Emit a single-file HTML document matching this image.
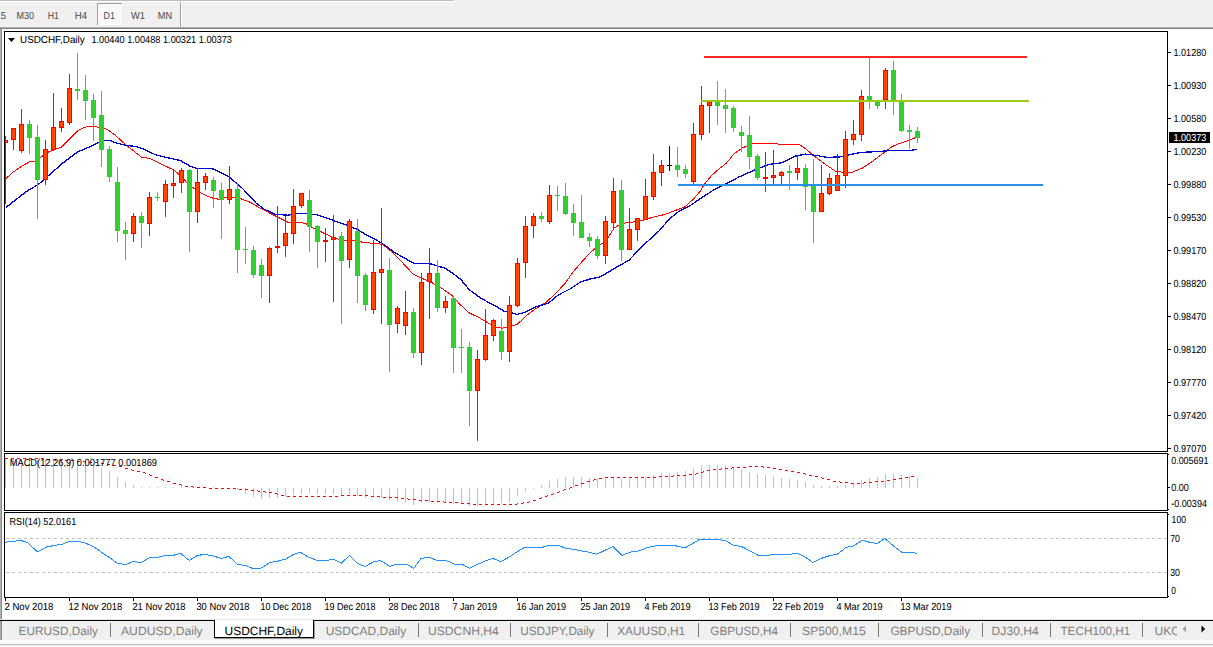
<!DOCTYPE html>
<html lang="en"><head><meta charset="utf-8"><title>USDCHF,Daily</title>
<style>html,body{margin:0;padding:0;background:#fff;overflow:hidden}body{width:1213px;height:647px}svg{display:block}text{font-family:"Liberation Sans",sans-serif;white-space:pre;text-rendering:geometricPrecision}</style>
</head><body>
<svg width="1213" height="647" viewBox="0 0 1213 647">
<rect x="0" y="0" width="1213" height="647" fill="#fff"/>
<g shape-rendering="crispEdges">
<rect x="0" y="0" width="1213" height="27" fill="#f0f0f0"/>
<rect x="0" y="0" width="453" height="1" fill="#bcbcbc"/>
<rect x="0" y="1" width="453" height="1" fill="#fdfdfd"/>
<rect x="0" y="27" width="1213" height="1" fill="#b0b0b0"/>
<rect x="0" y="28" width="1213" height="1" fill="#7e7e7e"/>
<rect x="97" y="3" width="25" height="22" fill="#f8f8f8"/>
<rect x="97" y="3" width="25" height="1" fill="#a0a0a0"/>
<rect x="97" y="3" width="1" height="22" fill="#a0a0a0"/>
<rect x="98" y="24" width="24" height="1" fill="#fff"/>
<rect x="121" y="4" width="1" height="21" fill="#fff"/>
<rect x="180" y="2" width="1" height="25" fill="#a0a0a0"/>
<rect x="181" y="2" width="1" height="25" fill="#fff"/>
<rect x="0" y="29" width="1" height="590" fill="#b0b0b0"/>
<rect x="1" y="29" width="1" height="590" fill="#888"/>
</g>
<text x="-4.4" y="19" font-size="10.2" fill="#484848" stroke="#484848" stroke-width="0" textLength="10.5" lengthAdjust="spacingAndGlyphs">15</text>
<text x="16.6" y="19" font-size="10.2" fill="#484848" stroke="#484848" stroke-width="0" textLength="17.5" lengthAdjust="spacingAndGlyphs">M30</text>
<text x="47.8" y="19" font-size="10.2" fill="#484848" stroke="#484848" stroke-width="0" textLength="11.2" lengthAdjust="spacingAndGlyphs">H1</text>
<text x="74.7" y="19" font-size="10.2" fill="#484848" stroke="#484848" stroke-width="0" textLength="12.3" lengthAdjust="spacingAndGlyphs">H4</text>
<text x="103.6" y="19" font-size="10.2" fill="#484848" stroke="#484848" stroke-width="0" textLength="11.4" lengthAdjust="spacingAndGlyphs">D1</text>
<text x="131" y="19" font-size="10.2" fill="#484848" stroke="#484848" stroke-width="0" textLength="13.9" lengthAdjust="spacingAndGlyphs">W1</text>
<text x="157.8" y="19" font-size="10.2" fill="#484848" stroke="#484848" stroke-width="0" textLength="14.3" lengthAdjust="spacingAndGlyphs">MN</text>
<g shape-rendering="crispEdges" fill="none" stroke="#000" stroke-width="1">
<rect x="4.5" y="31.5" width="1163" height="420"/>
<rect x="4.5" y="453.5" width="1163" height="57"/>
<rect x="4.5" y="512.5" width="1163" height="85"/>
</g>
<defs><clipPath id="cm"><rect x="5" y="32" width="1162" height="419"/></clipPath><clipPath id="cd"><rect x="5" y="454" width="1162" height="56"/></clipPath><clipPath id="cr"><rect x="5" y="513" width="1162" height="84"/></clipPath></defs>
<g clip-path="url(#cm)">
<polyline fill="none" stroke="#ff0000" stroke-width="1.0" stroke-linejoin="round" shape-rendering="crispEdges" points="5.8,178.7 13.2,172.1 21.5,166.3 29.8,161.7 35.6,161 43,155.6 49.6,151.4 61.2,147.3 69.5,139 77.7,130.8 85.2,127.1 91.8,126.1 99.3,127.4 107.5,129.4 115.8,135.7 125.7,144.8 132.3,149.8 141.4,157.2 149.7,158.4 158.8,163 167,166.8 173.7,170 180.3,175.4 187,182.9 192,187.2 195,188.7 200,192.2 205.1,195.2 213.1,198.2 220.2,199.5 225.2,197.2 234.2,197.2 242.3,199.2 250.3,202.3 260.4,208.3 269.8,213.1 278,217.2 288,222.2 294.6,223.3 299.6,222.2 306.2,223.8 312.8,228 322.7,232.6 332.6,237.1 342.6,240.4 355.8,240.9 364.1,242.5 374,243.4 382.3,244.2 392.2,252 399.9,259.9 406,266.5 413.1,274 421.4,278.1 431.3,282.3 441.2,288 451.1,294.7 459.4,303.8 469.3,312.9 479.3,317.8 489.2,323.6 495.8,326.9 502.4,328.1 509,326.9 517.3,324.4 525.6,316.2 535.5,308.7 545.4,302.9 555.3,293.8 565.3,283.1 573,272 581.1,262.6 591,251.9 599.3,245.3 605.9,241.1 614.1,227.9 622.4,223.3 632.3,222.1 642.3,220.5 652.2,217.5 665.4,214.3 675.3,210.5 685.3,206.7 693.5,198.9 700,191.5 704.5,184.2 711.1,176 719.4,168.5 726,163.5 734.3,153.6 742.6,147.8 752.5,143.7 769,143.4 780.6,144.2 798.8,144.2 806,149.1 815.9,157.4 825.9,164.8 835.8,171.4 845.7,172.6 852.3,172.3 862.3,168.1 872.2,161.5 882.1,154.1 892,146.6 902,142.5 910.2,140 917,136.8"/>
<polyline fill="none" stroke="#0000cd" stroke-width="1.3" stroke-linejoin="round" shape-rendering="crispEdges" points="5.8,207.7 16.5,199.1 28.1,190.3 38,184.8 49.6,174.6 62.9,163 77.7,151.9 89.3,147 99.3,142.3 105.9,140.3 110,140.3 115.8,142.8 125.7,145.3 135.6,146.5 142.3,148.6 155.5,154.7 165.4,157.2 180.3,160.5 190,166.1 197,168.6 209.1,168.4 214.1,169.1 220.2,172.6 228.2,176.1 235.2,182.2 242.3,188.2 249.3,195.7 256.3,203.3 264.4,209.3 275.4,214.3 288,215.2 297.9,213.4 306.2,213.4 316.1,214.7 326,217.7 335.9,221.4 345.9,224.7 357.5,229.6 365.7,234.6 375.6,239.6 383.9,244.5 393.8,252 403.8,257.7 413.7,263.2 428.6,263.2 436.2,265.7 444.5,267.9 452.8,273.2 461.1,279.8 469.3,289.7 479.3,297.1 489.2,302.9 495.8,306.2 504.1,311.2 512.3,312.9 517.3,314.5 525.6,312 535.5,307.1 548.7,302.9 558.7,294.7 570.2,288.9 580,282.3 590,279 600.1,277 615.8,267.6 629,260.2 642.3,246.1 658.8,231.2 668.7,219.6 678.7,211.4 690.2,205.6 700,198.9 712,191 726,183.9 739.3,176.8 752.5,171 769,164.4 782.3,162.7 795.5,156.1 805.4,154.1 815.4,155.3 826.9,157.3 839.1,157 849,154.9 860.6,152.4 877.2,151.6 893.7,150.4 911.9,150.3 917,149.2"/>
<g shape-rendering="crispEdges">
<rect x="5" y="136" width="1" height="68" fill="#ff0000"/>
<rect x="3" y="140" width="5" height="3" fill="#ff0000"/>
<rect x="4" y="141" width="3" height="1" fill="#ff4500"/>
<rect x="13" y="128" width="1" height="22" fill="#ff0000"/>
<rect x="11" y="128" width="5" height="12" fill="#ff0000"/>
<rect x="12" y="129" width="3" height="10" fill="#ff4500"/>
<rect x="21" y="109" width="1" height="44" fill="#ff0000"/>
<rect x="19" y="124" width="5" height="27" fill="#ff0000"/>
<rect x="20" y="125" width="3" height="25" fill="#ff4500"/>
<rect x="29" y="120" width="1" height="34" fill="#32cd32"/>
<rect x="27" y="124" width="5" height="14" fill="#32cd32"/>
<rect x="37" y="125" width="1" height="94" fill="#32cd32"/>
<rect x="35" y="137" width="5" height="43" fill="#32cd32"/>
<rect x="45" y="140" width="1" height="45" fill="#ff0000"/>
<rect x="43" y="149" width="5" height="31" fill="#ff0000"/>
<rect x="44" y="150" width="3" height="29" fill="#ff4500"/>
<rect x="53" y="93" width="1" height="58" fill="#ff0000"/>
<rect x="51" y="127" width="5" height="23" fill="#ff0000"/>
<rect x="52" y="128" width="3" height="21" fill="#ff4500"/>
<rect x="61" y="108" width="1" height="24" fill="#ff0000"/>
<rect x="59" y="121" width="5" height="7" fill="#ff0000"/>
<rect x="60" y="122" width="3" height="5" fill="#ff4500"/>
<rect x="69" y="74" width="1" height="51" fill="#ff0000"/>
<rect x="67" y="88" width="5" height="35" fill="#ff0000"/>
<rect x="68" y="89" width="3" height="33" fill="#ff4500"/>
<rect x="77" y="53" width="1" height="47" fill="#32cd32"/>
<rect x="75" y="89" width="5" height="2" fill="#32cd32"/>
<rect x="85" y="75" width="1" height="45" fill="#32cd32"/>
<rect x="83" y="90" width="5" height="11" fill="#32cd32"/>
<rect x="93" y="94" width="1" height="47" fill="#32cd32"/>
<rect x="91" y="100" width="5" height="18" fill="#32cd32"/>
<rect x="101" y="91" width="1" height="76" fill="#32cd32"/>
<rect x="99" y="115" width="5" height="35" fill="#32cd32"/>
<rect x="109" y="146" width="1" height="36" fill="#32cd32"/>
<rect x="107" y="149" width="5" height="28" fill="#32cd32"/>
<rect x="117" y="167" width="1" height="75" fill="#32cd32"/>
<rect x="115" y="182" width="5" height="49" fill="#32cd32"/>
<rect x="125" y="222" width="1" height="38" fill="#32cd32"/>
<rect x="123" y="230" width="5" height="4" fill="#32cd32"/>
<rect x="133" y="213" width="1" height="29" fill="#ff0000"/>
<rect x="131" y="216" width="5" height="18" fill="#ff0000"/>
<rect x="132" y="217" width="3" height="16" fill="#ff4500"/>
<rect x="141" y="212" width="1" height="36" fill="#32cd32"/>
<rect x="139" y="216" width="5" height="7" fill="#32cd32"/>
<rect x="149" y="192" width="1" height="44" fill="#ff0000"/>
<rect x="147" y="197" width="5" height="27" fill="#ff0000"/>
<rect x="148" y="198" width="3" height="25" fill="#ff4500"/>
<rect x="157" y="192" width="1" height="9" fill="#32cd32"/>
<rect x="155" y="197" width="5" height="1" fill="#32cd32"/>
<rect x="165" y="180" width="1" height="37" fill="#ff0000"/>
<rect x="163" y="184" width="5" height="18" fill="#ff0000"/>
<rect x="164" y="185" width="3" height="16" fill="#ff4500"/>
<rect x="173" y="170" width="1" height="28" fill="#ff0000"/>
<rect x="171" y="183" width="5" height="3" fill="#ff0000"/>
<rect x="172" y="184" width="3" height="1" fill="#ff4500"/>
<rect x="181" y="168" width="1" height="25" fill="#ff0000"/>
<rect x="179" y="170" width="5" height="13" fill="#ff0000"/>
<rect x="180" y="171" width="3" height="11" fill="#ff4500"/>
<rect x="189" y="169" width="1" height="83" fill="#32cd32"/>
<rect x="187" y="170" width="5" height="42" fill="#32cd32"/>
<rect x="197" y="168" width="1" height="55" fill="#ff0000"/>
<rect x="195" y="182" width="5" height="30" fill="#ff0000"/>
<rect x="196" y="183" width="3" height="28" fill="#ff4500"/>
<rect x="205" y="173" width="1" height="17" fill="#ff0000"/>
<rect x="203" y="176" width="5" height="7" fill="#ff0000"/>
<rect x="204" y="177" width="3" height="5" fill="#ff4500"/>
<rect x="213" y="177" width="1" height="31" fill="#32cd32"/>
<rect x="211" y="180" width="5" height="11" fill="#32cd32"/>
<rect x="221" y="183" width="1" height="56" fill="#32cd32"/>
<rect x="219" y="190" width="5" height="10" fill="#32cd32"/>
<rect x="229" y="166" width="1" height="38" fill="#ff0000"/>
<rect x="227" y="189" width="5" height="11" fill="#ff0000"/>
<rect x="228" y="190" width="3" height="9" fill="#ff4500"/>
<rect x="237" y="183" width="1" height="90" fill="#32cd32"/>
<rect x="235" y="189" width="5" height="61" fill="#32cd32"/>
<rect x="245" y="227" width="1" height="37" fill="#32cd32"/>
<rect x="243" y="249" width="5" height="1" fill="#32cd32"/>
<rect x="253" y="246" width="1" height="32" fill="#32cd32"/>
<rect x="251" y="250" width="5" height="25" fill="#32cd32"/>
<rect x="261" y="259" width="1" height="39" fill="#32cd32"/>
<rect x="259" y="265" width="5" height="11" fill="#32cd32"/>
<rect x="269" y="247" width="1" height="56" fill="#ff0000"/>
<rect x="267" y="248" width="5" height="28" fill="#ff0000"/>
<rect x="268" y="249" width="3" height="26" fill="#ff4500"/>
<rect x="277" y="206" width="1" height="47" fill="#ff0000"/>
<rect x="275" y="246" width="5" height="2" fill="#ff0000"/>
<rect x="285" y="216" width="1" height="41" fill="#ff0000"/>
<rect x="283" y="233" width="5" height="13" fill="#ff0000"/>
<rect x="284" y="234" width="3" height="11" fill="#ff4500"/>
<rect x="293" y="189" width="1" height="55" fill="#ff0000"/>
<rect x="291" y="206" width="5" height="28" fill="#ff0000"/>
<rect x="292" y="207" width="3" height="26" fill="#ff4500"/>
<rect x="301" y="193" width="1" height="15" fill="#ff0000"/>
<rect x="299" y="193" width="5" height="13" fill="#ff0000"/>
<rect x="300" y="194" width="3" height="11" fill="#ff4500"/>
<rect x="309" y="190" width="1" height="62" fill="#32cd32"/>
<rect x="307" y="200" width="5" height="27" fill="#32cd32"/>
<rect x="317" y="225" width="1" height="43" fill="#32cd32"/>
<rect x="315" y="226" width="5" height="16" fill="#32cd32"/>
<rect x="325" y="228" width="1" height="34" fill="#ff0000"/>
<rect x="323" y="240" width="5" height="2" fill="#ff0000"/>
<rect x="333" y="215" width="1" height="87" fill="#ff0000"/>
<rect x="331" y="237" width="5" height="3" fill="#ff0000"/>
<rect x="332" y="238" width="3" height="1" fill="#ff4500"/>
<rect x="341" y="232" width="1" height="92" fill="#32cd32"/>
<rect x="339" y="236" width="5" height="25" fill="#32cd32"/>
<rect x="349" y="219" width="1" height="49" fill="#ff0000"/>
<rect x="347" y="221" width="5" height="39" fill="#ff0000"/>
<rect x="348" y="222" width="3" height="37" fill="#ff4500"/>
<rect x="357" y="219" width="1" height="84" fill="#32cd32"/>
<rect x="355" y="231" width="5" height="45" fill="#32cd32"/>
<rect x="365" y="273" width="1" height="38" fill="#32cd32"/>
<rect x="363" y="275" width="5" height="30" fill="#32cd32"/>
<rect x="373" y="240" width="1" height="74" fill="#ff0000"/>
<rect x="371" y="272" width="5" height="38" fill="#ff0000"/>
<rect x="372" y="273" width="3" height="36" fill="#ff4500"/>
<rect x="381" y="208" width="1" height="116" fill="#ff0000"/>
<rect x="379" y="269" width="5" height="4" fill="#ff0000"/>
<rect x="380" y="270" width="3" height="2" fill="#ff4500"/>
<rect x="389" y="258" width="1" height="114" fill="#32cd32"/>
<rect x="387" y="270" width="5" height="55" fill="#32cd32"/>
<rect x="397" y="306" width="1" height="27" fill="#ff0000"/>
<rect x="395" y="308" width="5" height="16" fill="#ff0000"/>
<rect x="396" y="309" width="3" height="14" fill="#ff4500"/>
<rect x="405" y="291" width="1" height="44" fill="#ff0000"/>
<rect x="403" y="312" width="5" height="14" fill="#ff0000"/>
<rect x="404" y="313" width="3" height="12" fill="#ff4500"/>
<rect x="413" y="308" width="1" height="50" fill="#32cd32"/>
<rect x="411" y="312" width="5" height="41" fill="#32cd32"/>
<rect x="421" y="273" width="1" height="92" fill="#ff0000"/>
<rect x="419" y="282" width="5" height="71" fill="#ff0000"/>
<rect x="420" y="283" width="3" height="69" fill="#ff4500"/>
<rect x="429" y="248" width="1" height="71" fill="#ff0000"/>
<rect x="427" y="273" width="5" height="9" fill="#ff0000"/>
<rect x="428" y="274" width="3" height="7" fill="#ff4500"/>
<rect x="437" y="260" width="1" height="52" fill="#32cd32"/>
<rect x="435" y="273" width="5" height="35" fill="#32cd32"/>
<rect x="445" y="296" width="1" height="17" fill="#ff0000"/>
<rect x="443" y="301" width="5" height="7" fill="#ff0000"/>
<rect x="444" y="302" width="3" height="5" fill="#ff4500"/>
<rect x="453" y="296" width="1" height="77" fill="#32cd32"/>
<rect x="451" y="298" width="5" height="50" fill="#32cd32"/>
<rect x="461" y="329" width="1" height="44" fill="#32cd32"/>
<rect x="459" y="347" width="5" height="1" fill="#32cd32"/>
<rect x="469" y="342" width="1" height="84" fill="#32cd32"/>
<rect x="467" y="347" width="5" height="44" fill="#32cd32"/>
<rect x="477" y="350" width="1" height="91" fill="#ff0000"/>
<rect x="475" y="359" width="5" height="32" fill="#ff0000"/>
<rect x="476" y="360" width="3" height="30" fill="#ff4500"/>
<rect x="485" y="309" width="1" height="52" fill="#ff0000"/>
<rect x="483" y="335" width="5" height="25" fill="#ff0000"/>
<rect x="484" y="336" width="3" height="23" fill="#ff4500"/>
<rect x="493" y="319" width="1" height="22" fill="#ff0000"/>
<rect x="491" y="320" width="5" height="16" fill="#ff0000"/>
<rect x="492" y="321" width="3" height="14" fill="#ff4500"/>
<rect x="501" y="319" width="1" height="41" fill="#32cd32"/>
<rect x="499" y="331" width="5" height="21" fill="#32cd32"/>
<rect x="509" y="296" width="1" height="66" fill="#ff0000"/>
<rect x="507" y="305" width="5" height="47" fill="#ff0000"/>
<rect x="508" y="306" width="3" height="45" fill="#ff4500"/>
<rect x="517" y="258" width="1" height="49" fill="#ff0000"/>
<rect x="515" y="263" width="5" height="43" fill="#ff0000"/>
<rect x="516" y="264" width="3" height="41" fill="#ff4500"/>
<rect x="525" y="216" width="1" height="62" fill="#ff0000"/>
<rect x="523" y="226" width="5" height="37" fill="#ff0000"/>
<rect x="524" y="227" width="3" height="35" fill="#ff4500"/>
<rect x="533" y="213" width="1" height="25" fill="#ff0000"/>
<rect x="531" y="216" width="5" height="10" fill="#ff0000"/>
<rect x="532" y="217" width="3" height="8" fill="#ff4500"/>
<rect x="541" y="212" width="1" height="10" fill="#32cd32"/>
<rect x="539" y="216" width="5" height="3" fill="#32cd32"/>
<rect x="549" y="185" width="1" height="39" fill="#ff0000"/>
<rect x="547" y="195" width="5" height="27" fill="#ff0000"/>
<rect x="548" y="196" width="3" height="25" fill="#ff4500"/>
<rect x="557" y="186" width="1" height="25" fill="#32cd32"/>
<rect x="555" y="195" width="5" height="1" fill="#32cd32"/>
<rect x="565" y="183" width="1" height="32" fill="#32cd32"/>
<rect x="563" y="196" width="5" height="18" fill="#32cd32"/>
<rect x="573" y="204" width="1" height="32" fill="#32cd32"/>
<rect x="571" y="213" width="5" height="10" fill="#32cd32"/>
<rect x="581" y="195" width="1" height="43" fill="#32cd32"/>
<rect x="579" y="222" width="5" height="16" fill="#32cd32"/>
<rect x="589" y="233" width="1" height="14" fill="#32cd32"/>
<rect x="587" y="237" width="5" height="4" fill="#32cd32"/>
<rect x="597" y="236" width="1" height="23" fill="#32cd32"/>
<rect x="595" y="239" width="5" height="17" fill="#32cd32"/>
<rect x="605" y="216" width="1" height="48" fill="#ff0000"/>
<rect x="603" y="221" width="5" height="35" fill="#ff0000"/>
<rect x="604" y="222" width="3" height="33" fill="#ff4500"/>
<rect x="613" y="178" width="1" height="52" fill="#ff0000"/>
<rect x="611" y="191" width="5" height="32" fill="#ff0000"/>
<rect x="612" y="192" width="3" height="30" fill="#ff4500"/>
<rect x="621" y="180" width="1" height="81" fill="#32cd32"/>
<rect x="619" y="190" width="5" height="60" fill="#32cd32"/>
<rect x="629" y="208" width="1" height="42" fill="#ff0000"/>
<rect x="627" y="229" width="5" height="21" fill="#ff0000"/>
<rect x="628" y="230" width="3" height="19" fill="#ff4500"/>
<rect x="637" y="218" width="1" height="23" fill="#ff0000"/>
<rect x="635" y="218" width="5" height="12" fill="#ff0000"/>
<rect x="636" y="219" width="3" height="10" fill="#ff4500"/>
<rect x="645" y="179" width="1" height="41" fill="#ff0000"/>
<rect x="643" y="196" width="5" height="24" fill="#ff0000"/>
<rect x="644" y="197" width="3" height="22" fill="#ff4500"/>
<rect x="653" y="154" width="1" height="46" fill="#ff0000"/>
<rect x="651" y="172" width="5" height="25" fill="#ff0000"/>
<rect x="652" y="173" width="3" height="23" fill="#ff4500"/>
<rect x="661" y="160" width="1" height="26" fill="#ff0000"/>
<rect x="659" y="165" width="5" height="8" fill="#ff0000"/>
<rect x="660" y="166" width="3" height="6" fill="#ff4500"/>
<rect x="669" y="146" width="1" height="25" fill="#000000"/>
<rect x="667" y="165" width="5" height="1" fill="#000000"/>
<rect x="677" y="147" width="1" height="30" fill="#32cd32"/>
<rect x="675" y="165" width="5" height="5" fill="#32cd32"/>
<rect x="685" y="165" width="1" height="13" fill="#32cd32"/>
<rect x="683" y="169" width="5" height="5" fill="#32cd32"/>
<rect x="693" y="123" width="1" height="61" fill="#ff0000"/>
<rect x="691" y="134" width="5" height="48" fill="#ff0000"/>
<rect x="692" y="135" width="3" height="46" fill="#ff4500"/>
<rect x="701" y="86" width="1" height="54" fill="#ff0000"/>
<rect x="699" y="105" width="5" height="30" fill="#ff0000"/>
<rect x="700" y="106" width="3" height="28" fill="#ff4500"/>
<rect x="709" y="100" width="1" height="33" fill="#ff0000"/>
<rect x="707" y="102" width="5" height="4" fill="#ff0000"/>
<rect x="708" y="103" width="3" height="2" fill="#ff4500"/>
<rect x="717" y="81" width="1" height="44" fill="#32cd32"/>
<rect x="715" y="102" width="5" height="4" fill="#32cd32"/>
<rect x="725" y="89" width="1" height="44" fill="#32cd32"/>
<rect x="723" y="105" width="5" height="4" fill="#32cd32"/>
<rect x="733" y="106" width="1" height="26" fill="#32cd32"/>
<rect x="731" y="108" width="5" height="20" fill="#32cd32"/>
<rect x="741" y="126" width="1" height="26" fill="#32cd32"/>
<rect x="739" y="132" width="5" height="4" fill="#32cd32"/>
<rect x="749" y="116" width="1" height="53" fill="#32cd32"/>
<rect x="747" y="135" width="5" height="22" fill="#32cd32"/>
<rect x="757" y="154" width="1" height="26" fill="#32cd32"/>
<rect x="755" y="156" width="5" height="22" fill="#32cd32"/>
<rect x="765" y="152" width="1" height="40" fill="#ff0000"/>
<rect x="763" y="177" width="5" height="2" fill="#ff0000"/>
<rect x="773" y="150" width="1" height="36" fill="#ff0000"/>
<rect x="771" y="175" width="5" height="3" fill="#ff0000"/>
<rect x="772" y="176" width="3" height="1" fill="#ff4500"/>
<rect x="781" y="171" width="1" height="15" fill="#ff0000"/>
<rect x="779" y="172" width="5" height="4" fill="#ff0000"/>
<rect x="780" y="173" width="3" height="2" fill="#ff4500"/>
<rect x="789" y="165" width="1" height="25" fill="#32cd32"/>
<rect x="787" y="171" width="5" height="2" fill="#32cd32"/>
<rect x="797" y="155" width="1" height="25" fill="#ff0000"/>
<rect x="795" y="168" width="5" height="5" fill="#ff0000"/>
<rect x="796" y="169" width="3" height="3" fill="#ff4500"/>
<rect x="805" y="164" width="1" height="46" fill="#32cd32"/>
<rect x="803" y="168" width="5" height="19" fill="#32cd32"/>
<rect x="813" y="159" width="1" height="84" fill="#32cd32"/>
<rect x="811" y="186" width="5" height="26" fill="#32cd32"/>
<rect x="821" y="165" width="1" height="47" fill="#ff0000"/>
<rect x="819" y="193" width="5" height="19" fill="#ff0000"/>
<rect x="820" y="194" width="3" height="17" fill="#ff4500"/>
<rect x="829" y="173" width="1" height="22" fill="#ff0000"/>
<rect x="827" y="178" width="5" height="16" fill="#ff0000"/>
<rect x="828" y="179" width="3" height="14" fill="#ff4500"/>
<rect x="837" y="154" width="1" height="37" fill="#ff0000"/>
<rect x="835" y="175" width="5" height="16" fill="#ff0000"/>
<rect x="836" y="176" width="3" height="14" fill="#ff4500"/>
<rect x="845" y="131" width="1" height="57" fill="#ff0000"/>
<rect x="843" y="139" width="5" height="37" fill="#ff0000"/>
<rect x="844" y="140" width="3" height="35" fill="#ff4500"/>
<rect x="853" y="120" width="1" height="25" fill="#ff0000"/>
<rect x="851" y="134" width="5" height="6" fill="#ff0000"/>
<rect x="852" y="135" width="3" height="4" fill="#ff4500"/>
<rect x="861" y="90" width="1" height="51" fill="#ff0000"/>
<rect x="859" y="96" width="5" height="39" fill="#ff0000"/>
<rect x="860" y="97" width="3" height="37" fill="#ff4500"/>
<rect x="869" y="57" width="1" height="52" fill="#32cd32"/>
<rect x="867" y="96" width="5" height="4" fill="#32cd32"/>
<rect x="877" y="101" width="1" height="8" fill="#32cd32"/>
<rect x="875" y="101" width="5" height="5" fill="#32cd32"/>
<rect x="885" y="68" width="1" height="41" fill="#ff0000"/>
<rect x="883" y="70" width="5" height="30" fill="#ff0000"/>
<rect x="884" y="71" width="3" height="28" fill="#ff4500"/>
<rect x="893" y="61" width="1" height="54" fill="#32cd32"/>
<rect x="891" y="70" width="5" height="30" fill="#32cd32"/>
<rect x="901" y="94" width="1" height="38" fill="#32cd32"/>
<rect x="899" y="101" width="5" height="30" fill="#32cd32"/>
<rect x="909" y="125" width="1" height="24" fill="#32cd32"/>
<rect x="907" y="130" width="5" height="2" fill="#32cd32"/>
<rect x="917" y="127" width="1" height="16" fill="#32cd32"/>
<rect x="915" y="131" width="5" height="7" fill="#32cd32"/>
</g>
<g shape-rendering="crispEdges">
<rect x="704" y="56" width="323" height="2" fill="#ff2424"/>
<rect x="701" y="100" width="328" height="2" fill="#9acd14"/>
<rect x="678" y="184" width="365" height="2" fill="#2b8ee8"/>
</g>
</g>
<polygon points="8,38 15,38 11.5,42" fill="#000"/>
<text x="20" y="43" font-size="10.2" fill="#000" stroke="#000" stroke-width="0.06" textLength="64.7" lengthAdjust="spacingAndGlyphs">USDCHF,Daily</text>
<text x="91.4" y="43" font-size="10.2" fill="#000" stroke="#000" stroke-width="0.06" textLength="140.6" lengthAdjust="spacingAndGlyphs">1.00440 1.00488 1.00321 1.00373</text>
<g shape-rendering="crispEdges">
<rect x="1168" y="52" width="3" height="1" fill="#000"/>
<rect x="1168" y="85" width="3" height="1" fill="#000"/>
<rect x="1168" y="118" width="3" height="1" fill="#000"/>
<rect x="1168" y="151" width="3" height="1" fill="#000"/>
<rect x="1168" y="184" width="3" height="1" fill="#000"/>
<rect x="1168" y="217" width="3" height="1" fill="#000"/>
<rect x="1168" y="250" width="3" height="1" fill="#000"/>
<rect x="1168" y="283" width="3" height="1" fill="#000"/>
<rect x="1168" y="316" width="3" height="1" fill="#000"/>
<rect x="1168" y="349" width="3" height="1" fill="#000"/>
<rect x="1168" y="382" width="3" height="1" fill="#000"/>
<rect x="1168" y="415" width="3" height="1" fill="#000"/>
<rect x="1168" y="448" width="3" height="1" fill="#000"/>
</g>
<text x="1173.5" y="56.1" font-size="10.2" fill="#000" stroke="#000" stroke-width="0.06" textLength="32.8" lengthAdjust="spacingAndGlyphs">1.01280</text>
<text x="1173.5" y="89.1" font-size="10.2" fill="#000" stroke="#000" stroke-width="0.06" textLength="32.8" lengthAdjust="spacingAndGlyphs">1.00930</text>
<text x="1173.5" y="122.1" font-size="10.2" fill="#000" stroke="#000" stroke-width="0.06" textLength="32.8" lengthAdjust="spacingAndGlyphs">1.00580</text>
<text x="1173.5" y="155.1" font-size="10.2" fill="#000" stroke="#000" stroke-width="0.06" textLength="32.8" lengthAdjust="spacingAndGlyphs">1.00230</text>
<text x="1173.5" y="188.1" font-size="10.2" fill="#000" stroke="#000" stroke-width="0.06" textLength="32.8" lengthAdjust="spacingAndGlyphs">0.99880</text>
<text x="1173.5" y="221.1" font-size="10.2" fill="#000" stroke="#000" stroke-width="0.06" textLength="32.8" lengthAdjust="spacingAndGlyphs">0.99530</text>
<text x="1173.5" y="254.1" font-size="10.2" fill="#000" stroke="#000" stroke-width="0.06" textLength="32.8" lengthAdjust="spacingAndGlyphs">0.99170</text>
<text x="1173.5" y="287.1" font-size="10.2" fill="#000" stroke="#000" stroke-width="0.06" textLength="32.8" lengthAdjust="spacingAndGlyphs">0.98820</text>
<text x="1173.5" y="320.1" font-size="10.2" fill="#000" stroke="#000" stroke-width="0.06" textLength="32.8" lengthAdjust="spacingAndGlyphs">0.98470</text>
<text x="1173.5" y="353.1" font-size="10.2" fill="#000" stroke="#000" stroke-width="0.06" textLength="32.8" lengthAdjust="spacingAndGlyphs">0.98120</text>
<text x="1173.5" y="386.1" font-size="10.2" fill="#000" stroke="#000" stroke-width="0.06" textLength="32.8" lengthAdjust="spacingAndGlyphs">0.97770</text>
<text x="1173.5" y="419.1" font-size="10.2" fill="#000" stroke="#000" stroke-width="0.06" textLength="32.8" lengthAdjust="spacingAndGlyphs">0.97420</text>
<text x="1173.5" y="452.1" font-size="10.2" fill="#000" stroke="#000" stroke-width="0.06" textLength="32.8" lengthAdjust="spacingAndGlyphs">0.97070</text>
<rect x="1169" y="132" width="41" height="11" fill="#000" shape-rendering="crispEdges"/>
<text x="1173.5" y="141.1" font-size="10.2" fill="#fff" stroke="#fff" stroke-width="0.06" textLength="32.8" lengthAdjust="spacingAndGlyphs">1.00373</text>
<g clip-path="url(#cd)">
<g shape-rendering="crispEdges">
<rect x="5" y="459" width="1" height="29" fill="#c0c0c0"/>
<rect x="13" y="459" width="1" height="29" fill="#c0c0c0"/>
<rect x="21" y="459" width="1" height="29" fill="#c0c0c0"/>
<rect x="29" y="459" width="1" height="29" fill="#c0c0c0"/>
<rect x="37" y="460" width="1" height="28" fill="#c0c0c0"/>
<rect x="45" y="460" width="1" height="28" fill="#c0c0c0"/>
<rect x="53" y="460" width="1" height="28" fill="#c0c0c0"/>
<rect x="61" y="461" width="1" height="27" fill="#c0c0c0"/>
<rect x="69" y="461" width="1" height="27" fill="#c0c0c0"/>
<rect x="77" y="462" width="1" height="26" fill="#c0c0c0"/>
<rect x="85" y="464" width="1" height="24" fill="#c0c0c0"/>
<rect x="93" y="466" width="1" height="22" fill="#c0c0c0"/>
<rect x="101" y="468" width="1" height="20" fill="#c0c0c0"/>
<rect x="109" y="471" width="1" height="17" fill="#c0c0c0"/>
<rect x="117" y="477" width="1" height="11" fill="#c0c0c0"/>
<rect x="125" y="482" width="1" height="6" fill="#c0c0c0"/>
<rect x="133" y="485" width="1" height="3" fill="#c0c0c0"/>
<rect x="141" y="487" width="1" height="1" fill="#c0c0c0"/>
<rect x="149" y="487" width="1" height="1" fill="#c0c0c0"/>
<rect x="157" y="487" width="1" height="1" fill="#c0c0c0"/>
<rect x="165" y="487" width="1" height="1" fill="#c0c0c0"/>
<rect x="173" y="487" width="1" height="1" fill="#c0c0c0"/>
<rect x="181" y="487" width="1" height="1" fill="#c0c0c0"/>
<rect x="189" y="487" width="1" height="1" fill="#c0c0c0"/>
<rect x="197" y="487" width="1" height="1" fill="#c0c0c0"/>
<rect x="205" y="487" width="1" height="1" fill="#c0c0c0"/>
<rect x="213" y="487" width="1" height="1" fill="#c0c0c0"/>
<rect x="221" y="488" width="1" height="1" fill="#c0c0c0"/>
<rect x="229" y="488" width="1" height="1" fill="#c0c0c0"/>
<rect x="237" y="488" width="1" height="2" fill="#c0c0c0"/>
<rect x="245" y="488" width="1" height="6" fill="#c0c0c0"/>
<rect x="253" y="488" width="1" height="9" fill="#c0c0c0"/>
<rect x="261" y="488" width="1" height="11" fill="#c0c0c0"/>
<rect x="269" y="488" width="1" height="10" fill="#c0c0c0"/>
<rect x="277" y="488" width="1" height="10" fill="#c0c0c0"/>
<rect x="285" y="488" width="1" height="9" fill="#c0c0c0"/>
<rect x="293" y="488" width="1" height="7" fill="#c0c0c0"/>
<rect x="301" y="488" width="1" height="6" fill="#c0c0c0"/>
<rect x="309" y="488" width="1" height="5" fill="#c0c0c0"/>
<rect x="317" y="488" width="1" height="6" fill="#c0c0c0"/>
<rect x="325" y="488" width="1" height="6" fill="#c0c0c0"/>
<rect x="333" y="488" width="1" height="6" fill="#c0c0c0"/>
<rect x="341" y="488" width="1" height="7" fill="#c0c0c0"/>
<rect x="349" y="488" width="1" height="6" fill="#c0c0c0"/>
<rect x="357" y="488" width="1" height="8" fill="#c0c0c0"/>
<rect x="365" y="488" width="1" height="10" fill="#c0c0c0"/>
<rect x="373" y="488" width="1" height="10" fill="#c0c0c0"/>
<rect x="381" y="488" width="1" height="10" fill="#c0c0c0"/>
<rect x="389" y="488" width="1" height="12" fill="#c0c0c0"/>
<rect x="397" y="488" width="1" height="14" fill="#c0c0c0"/>
<rect x="405" y="488" width="1" height="15" fill="#c0c0c0"/>
<rect x="413" y="488" width="1" height="17" fill="#c0c0c0"/>
<rect x="421" y="488" width="1" height="15" fill="#c0c0c0"/>
<rect x="429" y="488" width="1" height="14" fill="#c0c0c0"/>
<rect x="437" y="488" width="1" height="14" fill="#c0c0c0"/>
<rect x="445" y="488" width="1" height="14" fill="#c0c0c0"/>
<rect x="453" y="488" width="1" height="16" fill="#c0c0c0"/>
<rect x="461" y="488" width="1" height="15" fill="#c0c0c0"/>
<rect x="469" y="488" width="1" height="18" fill="#c0c0c0"/>
<rect x="477" y="488" width="1" height="18" fill="#c0c0c0"/>
<rect x="485" y="488" width="1" height="16" fill="#c0c0c0"/>
<rect x="493" y="488" width="1" height="16" fill="#c0c0c0"/>
<rect x="501" y="488" width="1" height="15" fill="#c0c0c0"/>
<rect x="509" y="488" width="1" height="14" fill="#c0c0c0"/>
<rect x="517" y="488" width="1" height="8" fill="#c0c0c0"/>
<rect x="525" y="488" width="1" height="4" fill="#c0c0c0"/>
<rect x="533" y="488" width="1" height="1" fill="#c0c0c0"/>
<rect x="541" y="485" width="1" height="3" fill="#c0c0c0"/>
<rect x="549" y="481" width="1" height="7" fill="#c0c0c0"/>
<rect x="557" y="479" width="1" height="9" fill="#c0c0c0"/>
<rect x="565" y="477" width="1" height="11" fill="#c0c0c0"/>
<rect x="573" y="477" width="1" height="11" fill="#c0c0c0"/>
<rect x="581" y="477" width="1" height="11" fill="#c0c0c0"/>
<rect x="589" y="478" width="1" height="10" fill="#c0c0c0"/>
<rect x="597" y="478" width="1" height="10" fill="#c0c0c0"/>
<rect x="605" y="479" width="1" height="9" fill="#c0c0c0"/>
<rect x="613" y="478" width="1" height="10" fill="#c0c0c0"/>
<rect x="621" y="479" width="1" height="9" fill="#c0c0c0"/>
<rect x="629" y="479" width="1" height="9" fill="#c0c0c0"/>
<rect x="637" y="478" width="1" height="10" fill="#c0c0c0"/>
<rect x="645" y="477" width="1" height="11" fill="#c0c0c0"/>
<rect x="653" y="475" width="1" height="13" fill="#c0c0c0"/>
<rect x="661" y="473" width="1" height="15" fill="#c0c0c0"/>
<rect x="669" y="473" width="1" height="15" fill="#c0c0c0"/>
<rect x="677" y="472" width="1" height="16" fill="#c0c0c0"/>
<rect x="685" y="471" width="1" height="17" fill="#c0c0c0"/>
<rect x="693" y="468" width="1" height="20" fill="#c0c0c0"/>
<rect x="701" y="466" width="1" height="22" fill="#c0c0c0"/>
<rect x="709" y="465" width="1" height="23" fill="#c0c0c0"/>
<rect x="717" y="465" width="1" height="23" fill="#c0c0c0"/>
<rect x="725" y="465" width="1" height="23" fill="#c0c0c0"/>
<rect x="733" y="467" width="1" height="21" fill="#c0c0c0"/>
<rect x="741" y="469" width="1" height="19" fill="#c0c0c0"/>
<rect x="749" y="472" width="1" height="16" fill="#c0c0c0"/>
<rect x="757" y="474" width="1" height="14" fill="#c0c0c0"/>
<rect x="765" y="475" width="1" height="13" fill="#c0c0c0"/>
<rect x="773" y="476" width="1" height="12" fill="#c0c0c0"/>
<rect x="781" y="478" width="1" height="10" fill="#c0c0c0"/>
<rect x="789" y="479" width="1" height="9" fill="#c0c0c0"/>
<rect x="797" y="480" width="1" height="8" fill="#c0c0c0"/>
<rect x="805" y="482" width="1" height="6" fill="#c0c0c0"/>
<rect x="813" y="485" width="1" height="3" fill="#c0c0c0"/>
<rect x="821" y="486" width="1" height="2" fill="#c0c0c0"/>
<rect x="829" y="486" width="1" height="2" fill="#c0c0c0"/>
<rect x="837" y="486" width="1" height="2" fill="#c0c0c0"/>
<rect x="845" y="485" width="1" height="3" fill="#c0c0c0"/>
<rect x="853" y="483" width="1" height="5" fill="#c0c0c0"/>
<rect x="861" y="480" width="1" height="8" fill="#c0c0c0"/>
<rect x="869" y="478" width="1" height="10" fill="#c0c0c0"/>
<rect x="877" y="477" width="1" height="11" fill="#c0c0c0"/>
<rect x="885" y="474" width="1" height="14" fill="#c0c0c0"/>
<rect x="893" y="474" width="1" height="14" fill="#c0c0c0"/>
<rect x="901" y="475" width="1" height="13" fill="#c0c0c0"/>
<rect x="909" y="476" width="1" height="12" fill="#c0c0c0"/>
<rect x="917" y="478" width="1" height="10" fill="#c0c0c0"/>
</g>
<g shape-rendering="crispEdges">
<rect x="5" y="458" width="3" height="1" fill="#ff0000"/>
<rect x="11" y="458" width="3" height="1" fill="#ff0000"/>
<rect x="17" y="458" width="3" height="1" fill="#ff0000"/>
<rect x="23" y="458" width="3" height="1" fill="#ff0000"/>
<rect x="29" y="458" width="3" height="1" fill="#ff0000"/>
<rect x="35" y="458" width="3" height="1" fill="#ff0000"/>
<rect x="41" y="458" width="3" height="1" fill="#ff0000"/>
<rect x="47" y="459" width="3" height="1" fill="#ff0000"/>
<rect x="53" y="459" width="2" height="1" fill="#ff0000"/>
<rect x="55" y="460" width="1" height="1" fill="#ff0000"/>
<rect x="59" y="460" width="3" height="1" fill="#ff0000"/>
<rect x="65" y="460" width="3" height="1" fill="#ff0000"/>
<rect x="71" y="460" width="3" height="1" fill="#ff0000"/>
<rect x="77" y="461" width="3" height="1" fill="#ff0000"/>
<rect x="83" y="461" width="2" height="1" fill="#ff0000"/>
<rect x="85" y="462" width="1" height="1" fill="#ff0000"/>
<rect x="89" y="462" width="3" height="1" fill="#ff0000"/>
<rect x="95" y="462" width="3" height="1" fill="#ff0000"/>
<rect x="101" y="463" width="3" height="1" fill="#ff0000"/>
<rect x="107" y="464" width="3" height="1" fill="#ff0000"/>
<rect x="113" y="465" width="3" height="1" fill="#ff0000"/>
<rect x="119" y="466" width="3" height="1" fill="#ff0000"/>
<rect x="125" y="468" width="3" height="1" fill="#ff0000"/>
<rect x="131" y="469" width="1" height="1" fill="#ff0000"/>
<rect x="132" y="470" width="2" height="1" fill="#ff0000"/>
<rect x="137" y="471" width="3" height="1" fill="#ff0000"/>
<rect x="143" y="472" width="2" height="1" fill="#ff0000"/>
<rect x="145" y="473" width="1" height="1" fill="#ff0000"/>
<rect x="149" y="474" width="1" height="1" fill="#ff0000"/>
<rect x="150" y="475" width="2" height="1" fill="#ff0000"/>
<rect x="155" y="477" width="3" height="1" fill="#ff0000"/>
<rect x="161" y="479" width="2" height="1" fill="#ff0000"/>
<rect x="163" y="480" width="1" height="1" fill="#ff0000"/>
<rect x="167" y="481" width="3" height="1" fill="#ff0000"/>
<rect x="173" y="483" width="3" height="1" fill="#ff0000"/>
<rect x="179" y="484" width="2" height="1" fill="#ff0000"/>
<rect x="181" y="485" width="1" height="1" fill="#ff0000"/>
<rect x="185" y="486" width="3" height="1" fill="#ff0000"/>
<rect x="191" y="486" width="2" height="1" fill="#ff0000"/>
<rect x="193" y="487" width="1" height="1" fill="#ff0000"/>
<rect x="197" y="487" width="3" height="1" fill="#ff0000"/>
<rect x="203" y="487" width="3" height="1" fill="#ff0000"/>
<rect x="209" y="488" width="3" height="1" fill="#ff0000"/>
<rect x="215" y="488" width="3" height="1" fill="#ff0000"/>
<rect x="221" y="488" width="3" height="1" fill="#ff0000"/>
<rect x="227" y="488" width="3" height="1" fill="#ff0000"/>
<rect x="233" y="488" width="3" height="1" fill="#ff0000"/>
<rect x="239" y="489" width="3" height="1" fill="#ff0000"/>
<rect x="245" y="489" width="3" height="1" fill="#ff0000"/>
<rect x="251" y="490" width="3" height="1" fill="#ff0000"/>
<rect x="257" y="490" width="1" height="1" fill="#ff0000"/>
<rect x="258" y="491" width="2" height="1" fill="#ff0000"/>
<rect x="263" y="491" width="2" height="1" fill="#ff0000"/>
<rect x="265" y="492" width="1" height="1" fill="#ff0000"/>
<rect x="269" y="492" width="3" height="1" fill="#ff0000"/>
<rect x="275" y="493" width="2" height="1" fill="#ff0000"/>
<rect x="277" y="494" width="1" height="1" fill="#ff0000"/>
<rect x="281" y="495" width="3" height="1" fill="#ff0000"/>
<rect x="287" y="496" width="3" height="1" fill="#ff0000"/>
<rect x="293" y="496" width="3" height="1" fill="#ff0000"/>
<rect x="299" y="496" width="3" height="1" fill="#ff0000"/>
<rect x="305" y="496" width="3" height="1" fill="#ff0000"/>
<rect x="311" y="496" width="3" height="1" fill="#ff0000"/>
<rect x="317" y="496" width="3" height="1" fill="#ff0000"/>
<rect x="323" y="496" width="3" height="1" fill="#ff0000"/>
<rect x="329" y="496" width="3" height="1" fill="#ff0000"/>
<rect x="335" y="496" width="3" height="1" fill="#ff0000"/>
<rect x="341" y="495" width="3" height="1" fill="#ff0000"/>
<rect x="347" y="495" width="3" height="1" fill="#ff0000"/>
<rect x="353" y="495" width="3" height="1" fill="#ff0000"/>
<rect x="359" y="495" width="3" height="1" fill="#ff0000"/>
<rect x="365" y="495" width="3" height="1" fill="#ff0000"/>
<rect x="371" y="496" width="3" height="1" fill="#ff0000"/>
<rect x="377" y="496" width="3" height="1" fill="#ff0000"/>
<rect x="383" y="497" width="3" height="1" fill="#ff0000"/>
<rect x="389" y="497" width="3" height="1" fill="#ff0000"/>
<rect x="395" y="497" width="3" height="1" fill="#ff0000"/>
<rect x="401" y="498" width="3" height="1" fill="#ff0000"/>
<rect x="407" y="498" width="1" height="1" fill="#ff0000"/>
<rect x="408" y="499" width="2" height="1" fill="#ff0000"/>
<rect x="413" y="499" width="3" height="1" fill="#ff0000"/>
<rect x="419" y="500" width="3" height="1" fill="#ff0000"/>
<rect x="425" y="500" width="3" height="1" fill="#ff0000"/>
<rect x="431" y="501" width="3" height="1" fill="#ff0000"/>
<rect x="437" y="501" width="3" height="1" fill="#ff0000"/>
<rect x="443" y="501" width="1" height="1" fill="#ff0000"/>
<rect x="444" y="502" width="2" height="1" fill="#ff0000"/>
<rect x="449" y="502" width="3" height="1" fill="#ff0000"/>
<rect x="455" y="502" width="3" height="1" fill="#ff0000"/>
<rect x="461" y="503" width="3" height="1" fill="#ff0000"/>
<rect x="467" y="503" width="3" height="1" fill="#ff0000"/>
<rect x="473" y="504" width="3" height="1" fill="#ff0000"/>
<rect x="479" y="504" width="3" height="1" fill="#ff0000"/>
<rect x="485" y="504" width="3" height="1" fill="#ff0000"/>
<rect x="491" y="504" width="3" height="1" fill="#ff0000"/>
<rect x="497" y="504" width="3" height="1" fill="#ff0000"/>
<rect x="503" y="504" width="3" height="1" fill="#ff0000"/>
<rect x="509" y="504" width="3" height="1" fill="#ff0000"/>
<rect x="515" y="504" width="2" height="1" fill="#ff0000"/>
<rect x="517" y="503" width="1" height="1" fill="#ff0000"/>
<rect x="521" y="503" width="2" height="1" fill="#ff0000"/>
<rect x="523" y="502" width="1" height="1" fill="#ff0000"/>
<rect x="527" y="502" width="2" height="1" fill="#ff0000"/>
<rect x="529" y="501" width="1" height="1" fill="#ff0000"/>
<rect x="533" y="500" width="3" height="1" fill="#ff0000"/>
<rect x="539" y="498" width="2" height="1" fill="#ff0000"/>
<rect x="541" y="497" width="1" height="1" fill="#ff0000"/>
<rect x="545" y="496" width="2" height="1" fill="#ff0000"/>
<rect x="547" y="495" width="1" height="1" fill="#ff0000"/>
<rect x="551" y="494" width="2" height="1" fill="#ff0000"/>
<rect x="553" y="493" width="1" height="1" fill="#ff0000"/>
<rect x="557" y="492" width="2" height="1" fill="#ff0000"/>
<rect x="559" y="491" width="1" height="1" fill="#ff0000"/>
<rect x="563" y="490" width="1" height="1" fill="#ff0000"/>
<rect x="564" y="489" width="2" height="1" fill="#ff0000"/>
<rect x="569" y="488" width="1" height="1" fill="#ff0000"/>
<rect x="570" y="487" width="2" height="1" fill="#ff0000"/>
<rect x="575" y="485" width="3" height="1" fill="#ff0000"/>
<rect x="581" y="483" width="3" height="1" fill="#ff0000"/>
<rect x="587" y="481" width="3" height="1" fill="#ff0000"/>
<rect x="593" y="480" width="1" height="1" fill="#ff0000"/>
<rect x="594" y="479" width="2" height="1" fill="#ff0000"/>
<rect x="599" y="478" width="3" height="1" fill="#ff0000"/>
<rect x="605" y="477" width="3" height="1" fill="#ff0000"/>
<rect x="611" y="477" width="3" height="1" fill="#ff0000"/>
<rect x="617" y="477" width="3" height="1" fill="#ff0000"/>
<rect x="623" y="477" width="3" height="1" fill="#ff0000"/>
<rect x="629" y="477" width="3" height="1" fill="#ff0000"/>
<rect x="635" y="477" width="3" height="1" fill="#ff0000"/>
<rect x="641" y="477" width="3" height="1" fill="#ff0000"/>
<rect x="647" y="477" width="3" height="1" fill="#ff0000"/>
<rect x="653" y="477" width="3" height="1" fill="#ff0000"/>
<rect x="659" y="476" width="3" height="1" fill="#ff0000"/>
<rect x="665" y="476" width="3" height="1" fill="#ff0000"/>
<rect x="671" y="476" width="2" height="1" fill="#ff0000"/>
<rect x="673" y="475" width="1" height="1" fill="#ff0000"/>
<rect x="677" y="475" width="3" height="1" fill="#ff0000"/>
<rect x="683" y="475" width="3" height="1" fill="#ff0000"/>
<rect x="689" y="474" width="3" height="1" fill="#ff0000"/>
<rect x="695" y="474" width="1" height="1" fill="#ff0000"/>
<rect x="696" y="473" width="2" height="1" fill="#ff0000"/>
<rect x="701" y="472" width="2" height="1" fill="#ff0000"/>
<rect x="703" y="471" width="1" height="1" fill="#ff0000"/>
<rect x="707" y="470" width="3" height="1" fill="#ff0000"/>
<rect x="713" y="469" width="3" height="1" fill="#ff0000"/>
<rect x="719" y="469" width="2" height="1" fill="#ff0000"/>
<rect x="721" y="468" width="1" height="1" fill="#ff0000"/>
<rect x="725" y="468" width="3" height="1" fill="#ff0000"/>
<rect x="731" y="468" width="1" height="1" fill="#ff0000"/>
<rect x="732" y="467" width="2" height="1" fill="#ff0000"/>
<rect x="737" y="467" width="3" height="1" fill="#ff0000"/>
<rect x="743" y="467" width="3" height="1" fill="#ff0000"/>
<rect x="749" y="466" width="3" height="1" fill="#ff0000"/>
<rect x="755" y="466" width="3" height="1" fill="#ff0000"/>
<rect x="761" y="466" width="2" height="1" fill="#ff0000"/>
<rect x="763" y="467" width="1" height="1" fill="#ff0000"/>
<rect x="767" y="467" width="3" height="1" fill="#ff0000"/>
<rect x="773" y="468" width="3" height="1" fill="#ff0000"/>
<rect x="779" y="469" width="3" height="1" fill="#ff0000"/>
<rect x="785" y="470" width="3" height="1" fill="#ff0000"/>
<rect x="791" y="471" width="3" height="1" fill="#ff0000"/>
<rect x="797" y="472" width="3" height="1" fill="#ff0000"/>
<rect x="803" y="473" width="2" height="1" fill="#ff0000"/>
<rect x="805" y="474" width="1" height="1" fill="#ff0000"/>
<rect x="809" y="475" width="3" height="1" fill="#ff0000"/>
<rect x="815" y="476" width="3" height="1" fill="#ff0000"/>
<rect x="821" y="477" width="1" height="1" fill="#ff0000"/>
<rect x="822" y="478" width="2" height="1" fill="#ff0000"/>
<rect x="827" y="479" width="3" height="1" fill="#ff0000"/>
<rect x="833" y="481" width="3" height="1" fill="#ff0000"/>
<rect x="839" y="481" width="1" height="1" fill="#ff0000"/>
<rect x="840" y="482" width="2" height="1" fill="#ff0000"/>
<rect x="845" y="482" width="3" height="1" fill="#ff0000"/>
<rect x="851" y="483" width="3" height="1" fill="#ff0000"/>
<rect x="857" y="483" width="3" height="1" fill="#ff0000"/>
<rect x="863" y="483" width="1" height="1" fill="#ff0000"/>
<rect x="864" y="482" width="2" height="1" fill="#ff0000"/>
<rect x="869" y="482" width="3" height="1" fill="#ff0000"/>
<rect x="875" y="481" width="3" height="1" fill="#ff0000"/>
<rect x="881" y="481" width="3" height="1" fill="#ff0000"/>
<rect x="887" y="480" width="3" height="1" fill="#ff0000"/>
<rect x="893" y="479" width="3" height="1" fill="#ff0000"/>
<rect x="899" y="478" width="3" height="1" fill="#ff0000"/>
<rect x="905" y="477" width="3" height="1" fill="#ff0000"/>
<rect x="911" y="476" width="3" height="1" fill="#ff0000"/>
</g>
</g>
<text x="9.7" y="466" font-size="10.2" fill="#000" stroke="#000" stroke-width="0.06" textLength="147.3" lengthAdjust="spacingAndGlyphs">MACD(12,26,9) 0.001777 0.001869</text>
<g shape-rendering="crispEdges">
<rect x="1168" y="487" width="2" height="1" fill="#000"/>
<rect x="1168" y="454" width="1" height="1" fill="#000"/>
<rect x="1168" y="509" width="1" height="1" fill="#000"/>
<rect x="1168" y="514" width="1" height="1" fill="#000"/>
<rect x="1168" y="596" width="1" height="1" fill="#000"/>
</g>
<text x="1171.2" y="464" font-size="10.2" fill="#000" stroke="#000" stroke-width="0.06" textLength="37.2" lengthAdjust="spacingAndGlyphs">0.005691</text>
<text x="1171.2" y="491" font-size="10.2" fill="#000" stroke="#000" stroke-width="0.06" textLength="17.7" lengthAdjust="spacingAndGlyphs">0.00</text>
<text x="1171.2" y="507" font-size="10.2" fill="#000" stroke="#000" stroke-width="0.06" textLength="35.8" lengthAdjust="spacingAndGlyphs">-0.00394</text>
<g clip-path="url(#cr)">
<g shape-rendering="crispEdges" stroke="#c0c0c0" stroke-width="1" stroke-dasharray="3,3">
<line x1="6" y1="538.5" x2="1167" y2="538.5"/>
<line x1="6" y1="572.5" x2="1167" y2="572.5"/>
</g>
<polyline fill="none" stroke="#1e90ff" stroke-width="1.0" stroke-linejoin="round" shape-rendering="crispEdges" points="5,542.3 12.4,541.3 21,540.6 27.2,542.3 37.5,552 47,546.8 54.4,545.5 61.8,544.3 69.3,541.6 79.1,541.3 86.6,543.6 94,546.8 101.4,552.2 108.8,557.2 117.5,563.3 124.9,564.6 133.6,561.6 141,562.6 149.6,557.6 158.3,557.2 165.7,555.4 173.1,555.4 180.6,553.4 189.2,560.4 196.6,555.9 204.1,554.2 212.7,555.9 221.4,558.4 228.8,556.4 237.4,564.1 246.1,565.8 253.5,568.8 260.9,568.3 269.6,562.6 277,561.4 285.7,559.1 293.1,554.7 300,552.2 308.7,557.2 317.3,560.4 327.2,560.4 333.4,559.1 341.3,563.3 349.5,555.4 357.4,563.3 365,566.6 373,562.1 380.4,560.4 389.5,566.3 397.7,564.1 406.4,564.1 413.8,568.3 421.2,558.4 428.6,557.2 437.3,560.4 445.9,560.4 454.6,564.1 462,564.1 469.4,568.3 478.1,564.1 485.5,560.9 492.9,558.4 500.8,561.6 509,557.2 516.4,552.2 523.8,547.8 533.7,547.3 542.4,547.3 549.8,545.3 558.5,545.3 565.9,548.5 573.3,549.2 582,551 589.4,552.2 596.8,554.2 600,552.7 612.9,546.5 621.8,555.4 629.7,552.2 638.3,551 648.2,547.3 658.1,545.3 673,545.3 685.3,547.8 698.9,539.8 708.8,539.1 724.9,540.3 733.6,545.3 742.2,546.8 758.3,555.4 768.2,555.4 773.1,554.2 790.5,554.2 797.9,553.4 805.3,557.2 813.2,562.6 821.4,558.4 828.8,555.9 837.4,554.2 846.1,547.3 853.5,546 862.2,540.3 869.6,542.3 877,543.6 884.9,538.5 893.4,545.9 902,552.5 912.9,552.5 917.1,553.4"/>
</g>
<text x="9.5" y="525" font-size="10.2" fill="#000" stroke="#000" stroke-width="0.06" textLength="66.7" lengthAdjust="spacingAndGlyphs">RSI(14) 52.0161</text>
<text x="1171.6" y="523" font-size="10.2" fill="#000" stroke="#000" stroke-width="0.06" textLength="14.4" lengthAdjust="spacingAndGlyphs">100</text>
<text x="1170.2" y="541.6" font-size="10.2" fill="#000" stroke="#000" stroke-width="0.06" textLength="9.8" lengthAdjust="spacingAndGlyphs">70</text>
<text x="1170.2" y="575.8" font-size="10.2" fill="#000" stroke="#000" stroke-width="0.06" textLength="9.8" lengthAdjust="spacingAndGlyphs">30</text>
<text x="1171.3" y="593.8" font-size="10.2" fill="#000" stroke="#000" stroke-width="0.06" textLength="4.7" lengthAdjust="spacingAndGlyphs">0</text>
<g shape-rendering="crispEdges">
<rect x="5" y="598" width="1" height="3" fill="#000"/>
<rect x="69" y="598" width="1" height="3" fill="#000"/>
<rect x="133" y="598" width="1" height="3" fill="#000"/>
<rect x="197" y="598" width="1" height="3" fill="#000"/>
<rect x="261" y="598" width="1" height="3" fill="#000"/>
<rect x="325" y="598" width="1" height="3" fill="#000"/>
<rect x="389" y="598" width="1" height="3" fill="#000"/>
<rect x="453" y="598" width="1" height="3" fill="#000"/>
<rect x="517" y="598" width="1" height="3" fill="#000"/>
<rect x="581" y="598" width="1" height="3" fill="#000"/>
<rect x="645" y="598" width="1" height="3" fill="#000"/>
<rect x="709" y="598" width="1" height="3" fill="#000"/>
<rect x="773" y="598" width="1" height="3" fill="#000"/>
<rect x="837" y="598" width="1" height="3" fill="#000"/>
<rect x="901" y="598" width="1" height="3" fill="#000"/>
</g>
<text x="4.4" y="610" font-size="10.2" fill="#000" stroke="#000" stroke-width="0.06" textLength="49.0" lengthAdjust="spacingAndGlyphs">2 Nov 2018</text>
<text x="68.4" y="610" font-size="10.2" fill="#000" stroke="#000" stroke-width="0.06" textLength="53.9" lengthAdjust="spacingAndGlyphs">12 Nov 2018</text>
<text x="132.4" y="610" font-size="10.2" fill="#000" stroke="#000" stroke-width="0.06" textLength="53.2" lengthAdjust="spacingAndGlyphs">21 Nov 2018</text>
<text x="196.4" y="610" font-size="10.2" fill="#000" stroke="#000" stroke-width="0.06" textLength="53.2" lengthAdjust="spacingAndGlyphs">30 Nov 2018</text>
<text x="260.4" y="610" font-size="10.2" fill="#000" stroke="#000" stroke-width="0.06" textLength="50.9" lengthAdjust="spacingAndGlyphs">10 Dec 2018</text>
<text x="324.4" y="610" font-size="10.2" fill="#000" stroke="#000" stroke-width="0.06" textLength="51.1" lengthAdjust="spacingAndGlyphs">19 Dec 2018</text>
<text x="388.4" y="610" font-size="10.2" fill="#000" stroke="#000" stroke-width="0.06" textLength="51.1" lengthAdjust="spacingAndGlyphs">28 Dec 2018</text>
<text x="452.4" y="610" font-size="10.2" fill="#000" stroke="#000" stroke-width="0.06" textLength="44.6" lengthAdjust="spacingAndGlyphs">7 Jan 2019</text>
<text x="516.4" y="610" font-size="10.2" fill="#000" stroke="#000" stroke-width="0.06" textLength="49.5" lengthAdjust="spacingAndGlyphs">16 Jan 2019</text>
<text x="580.4" y="610" font-size="10.2" fill="#000" stroke="#000" stroke-width="0.06" textLength="49.5" lengthAdjust="spacingAndGlyphs">25 Jan 2019</text>
<text x="644.4" y="610" font-size="10.2" fill="#000" stroke="#000" stroke-width="0.06" textLength="46.1" lengthAdjust="spacingAndGlyphs">4 Feb 2019</text>
<text x="708.4" y="610" font-size="10.2" fill="#000" stroke="#000" stroke-width="0.06" textLength="51.3" lengthAdjust="spacingAndGlyphs">13 Feb 2019</text>
<text x="772.4" y="610" font-size="10.2" fill="#000" stroke="#000" stroke-width="0.06" textLength="51.1" lengthAdjust="spacingAndGlyphs">22 Feb 2019</text>
<text x="836.4" y="610" font-size="10.2" fill="#000" stroke="#000" stroke-width="0.06" textLength="46.2" lengthAdjust="spacingAndGlyphs">4 Mar 2019</text>
<text x="900.4" y="610" font-size="10.2" fill="#000" stroke="#000" stroke-width="0.06" textLength="51.1" lengthAdjust="spacingAndGlyphs">13 Mar 2019</text>
<g shape-rendering="crispEdges">
<rect x="0" y="619" width="1213" height="1" fill="#e6e6e6"/>
<rect x="0" y="620" width="1213" height="1" fill="#000"/>
<rect x="0" y="621" width="1213" height="19" fill="#f0f0f0"/>
<rect x="0" y="640" width="1213" height="4" fill="#fafafa"/>
<rect x="0" y="644" width="1213" height="1" fill="#b4b4b4"/>
<rect x="0" y="645" width="1213" height="2" fill="#f4f4f4"/>
<rect x="0" y="621" width="1" height="19" fill="#a8a8a8"/>
<rect x="1" y="621" width="1" height="19" fill="#8c8c8c"/>
<rect x="214" y="620" width="100" height="18" fill="#fff"/>
<rect x="214" y="620" width="1" height="18" fill="#000"/>
<rect x="313" y="620" width="1" height="18" fill="#000"/>
<rect x="214" y="637" width="100" height="1" fill="#000"/>
<rect x="215" y="638" width="100" height="1" fill="#9a9a9a"/>
<rect x="314" y="622" width="1" height="17" fill="#9a9a9a"/>
<rect x="110" y="623" width="1" height="14" fill="#787878"/>
<rect x="418" y="623" width="1" height="14" fill="#787878"/>
<rect x="510" y="623" width="1" height="14" fill="#787878"/>
<rect x="607" y="623" width="1" height="14" fill="#787878"/>
<rect x="698" y="623" width="1" height="14" fill="#787878"/>
<rect x="790" y="623" width="1" height="14" fill="#787878"/>
<rect x="878" y="623" width="1" height="14" fill="#787878"/>
<rect x="982" y="623" width="1" height="14" fill="#787878"/>
<rect x="1050" y="623" width="1" height="14" fill="#787878"/>
<rect x="1142" y="623" width="1" height="14" fill="#787878"/>
</g>
<text x="18.5" y="634.7" font-size="12" fill="#808080" stroke="#808080" stroke-width="0.03" textLength="79.5" lengthAdjust="spacingAndGlyphs">EURUSD,Daily</text>
<text x="121" y="634.7" font-size="12" fill="#808080" stroke="#808080" stroke-width="0.03" textLength="81.7" lengthAdjust="spacingAndGlyphs">AUDUSD,Daily</text>
<text x="224.6" y="634.7" font-size="12" fill="#000" stroke="#000" stroke-width="0.03" textLength="78.4" lengthAdjust="spacingAndGlyphs">USDCHF,Daily</text>
<text x="325.7" y="634.7" font-size="12" fill="#808080" stroke="#808080" stroke-width="0.03" textLength="80.5" lengthAdjust="spacingAndGlyphs">USDCAD,Daily</text>
<text x="428" y="634.7" font-size="12" fill="#808080" stroke="#808080" stroke-width="0.03" textLength="70.8" lengthAdjust="spacingAndGlyphs">USDCNH,H4</text>
<text x="520.3" y="634.7" font-size="12" fill="#808080" stroke="#808080" stroke-width="0.03" textLength="74.2" lengthAdjust="spacingAndGlyphs">USDJPY,Daily</text>
<text x="617.2" y="634.7" font-size="12" fill="#808080" stroke="#808080" stroke-width="0.03" textLength="68.0" lengthAdjust="spacingAndGlyphs">XAUUSD,H1</text>
<text x="710.3" y="634.7" font-size="12" fill="#808080" stroke="#808080" stroke-width="0.03" textLength="67.6" lengthAdjust="spacingAndGlyphs">GBPUSD,H4</text>
<text x="802" y="634.7" font-size="12" fill="#808080" stroke="#808080" stroke-width="0.03" textLength="63.7" lengthAdjust="spacingAndGlyphs">SP500,M15</text>
<text x="890.4" y="634.7" font-size="12" fill="#808080" stroke="#808080" stroke-width="0.03" textLength="79.8" lengthAdjust="spacingAndGlyphs">GBPUSD,Daily</text>
<text x="991.6" y="634.7" font-size="12" fill="#808080" stroke="#808080" stroke-width="0.03" textLength="47.2" lengthAdjust="spacingAndGlyphs">DJ30,H4</text>
<text x="1060.4" y="634.7" font-size="12" fill="#808080" stroke="#808080" stroke-width="0.03" textLength="69.9" lengthAdjust="spacingAndGlyphs">TECH100,H1</text>
<defs><clipPath id="ct"><rect x="1150" y="621" width="27" height="19"/></clipPath></defs>
<g clip-path="url(#ct)">
<text x="1154.5" y="634.5" font-size="12" fill="#808080" stroke="#808080" stroke-width="0.03">UKOIL,H1</text>
</g>
<polygon points="1186,625.5 1186,632.5 1182.5,629" fill="#a0a0a0"/>
<polygon points="1201.5,625.5 1201.5,632.5 1205.2,629" fill="#000"/>
</svg></body></html>
